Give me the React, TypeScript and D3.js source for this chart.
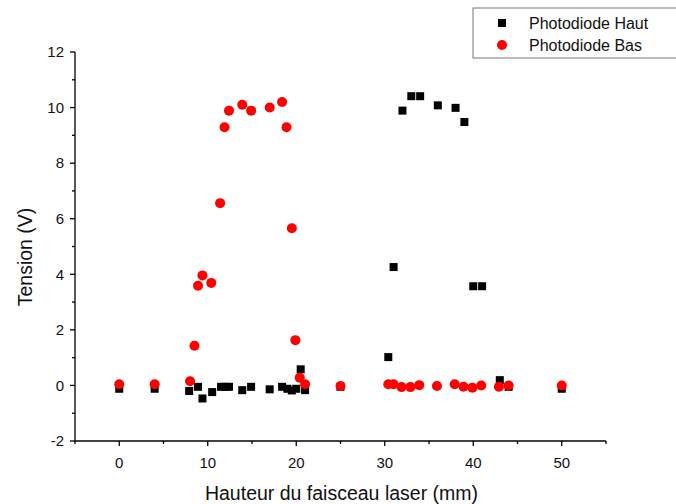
import React from 'react';
import * as d3 from 'd3';

// Photodiode Haut (black squares)
const hautX = [0, 4, 7.9, 8.9, 9.4, 10.5, 11.5, 12, 12.4, 13.9, 14.9, 17, 18.4, 19, 19.5, 20, 20.5, 21, 25, 30.4, 31, 32, 33, 34, 36, 38, 39, 40, 41, 43, 44, 50];
const hautY = [-0.12, -0.12, -0.2, -0.05, -0.47, -0.24, -0.05, -0.05, -0.05, -0.17, -0.05, -0.14, -0.05, -0.12, -0.18, -0.12, 0.58, -0.17, -0.05, 1.02, 4.26, 9.89, 10.41, 10.41, 10.08, 9.99, 9.48, 3.57, 3.57, 0.19, -0.05, -0.12];

// Photodiode Bas (red circles)
const basX = [0, 4, 8, 8.5, 8.9, 9.4, 10.4, 11.4, 11.9, 12.4, 13.9, 14.9, 17, 18.4, 18.9, 19.5, 19.9, 20.4, 21, 25, 30.4, 31, 31.9, 32.9, 33.9, 35.9, 37.9, 38.9, 39.9, 40.9, 42.9, 44, 50];
const basY = [0.04, 0.04, 0.15, 1.43, 3.59, 3.96, 3.69, 6.56, 9.29, 9.89, 10.1, 9.89, 10.0, 10.2, 9.29, 5.66, 1.63, 0.28, 0.04, -0.02, 0.04, 0.04, -0.06, -0.06, 0.01, -0.02, 0.04, -0.05, -0.08, 0.0, -0.05, 0.0, 0.0];

const xTicks = [0, 10, 20, 30, 40, 50];
const yTicks = [-2, 0, 2, 4, 6, 8, 10, 12];
const seriesNames = ['Photodiode Haut', 'Photodiode Bas'];

const W = 676;
const H = 504;
const left = 75;
const right = 606;
const top = 52;
const bottom = 441;
const font = 'Arial, "Liberation Sans", sans-serif';

export default function App() {
  const x = d3.scaleLinear().domain([-5, 55]).range([left, right]);
  const y = d3.scaleLinear().domain([-2, 12]).range([bottom, top]);

  const xMinor = d3.range(-5, 56, 5).filter((v) => !xTicks.includes(v));
  const yMinor = d3.range(-2, 12.5, 1).filter((v) => !yTicks.includes(v));

  const sq = 8;

  return (
    <svg width={W} height={H} style={{ position: 'absolute', left: 0, top: 0, background: '#fff' }} fontFamily={font}>
      {/* axes */}
      <line x1={left} x2={left} y1={top} y2={bottom} stroke="#000" strokeWidth={1.3} />
      <line x1={left} x2={right} y1={bottom} y2={bottom} stroke="#000" strokeWidth={1.3} />

      {yTicks.map((t) => (
        <g key={'y' + t}>
          <line x1={left - 5} x2={left} y1={y(t)} y2={y(t)} stroke="#000" strokeWidth={1.3} />
          <text x={left - 11} y={y(t)} dy="0.35em" textAnchor="end" fontSize={15} fill="#111">{t}</text>
        </g>
      ))}
      {yMinor.map((t) => (
        <line key={'ym' + t} x1={left - 3} x2={left} y1={y(t)} y2={y(t)} stroke="#000" strokeWidth={1.3} />
      ))}
      {xTicks.map((t) => (
        <g key={'x' + t}>
          <line x1={x(t)} x2={x(t)} y1={bottom} y2={bottom + 5} stroke="#000" strokeWidth={1.3} />
          <text x={x(t)} y={bottom + 22} dy="0.35em" textAnchor="middle" fontSize={15} fill="#111">{t}</text>
        </g>
      ))}
      {xMinor.map((t) => (
        <line key={'xm' + t} x1={x(t)} x2={x(t)} y1={bottom} y2={bottom + 3} stroke="#000" strokeWidth={1.3} />
      ))}

      <text x={(left + right) / 2 + 1} y={493} dy="0.35em" textAnchor="middle" fontSize={19.5} fill="#111">
        Hauteur du faisceau laser (mm)
      </text>
      <text transform={`translate(25, 257) rotate(-90)`} dy="0.35em" textAnchor="middle" fontSize={19.5} fill="#111">
        Tension (V)
      </text>

      {/* data */}
      {hautX.map((v, i) => (
        <rect key={'h' + i} x={x(v) - sq / 2} y={y(hautY[i]) - sq / 2} width={sq} height={sq} fill="#000" />
      ))}
      {basX.map((v, i) => (
        <circle key={'b' + i} cx={x(v)} cy={y(basY[i])} r={5} fill="#ff0000" />
      ))}

      {/* legend */}
      <rect x={473} y={8} width={210} height={50} fill="#fff" stroke="#777" strokeWidth={1} />
      <rect x={502 - 4} y={23 - 4} width={8} height={8} fill="#000" />
      <text x={529} y={23} dy="0.35em" fontSize={16} fill="#111">{seriesNames[0]}</text>
      <circle cx={502} cy={45} r={5} fill="#ff0000" />
      <text x={529} y={45} dy="0.35em" fontSize={16} fill="#111">{seriesNames[1]}</text>
    </svg>
  );
}
